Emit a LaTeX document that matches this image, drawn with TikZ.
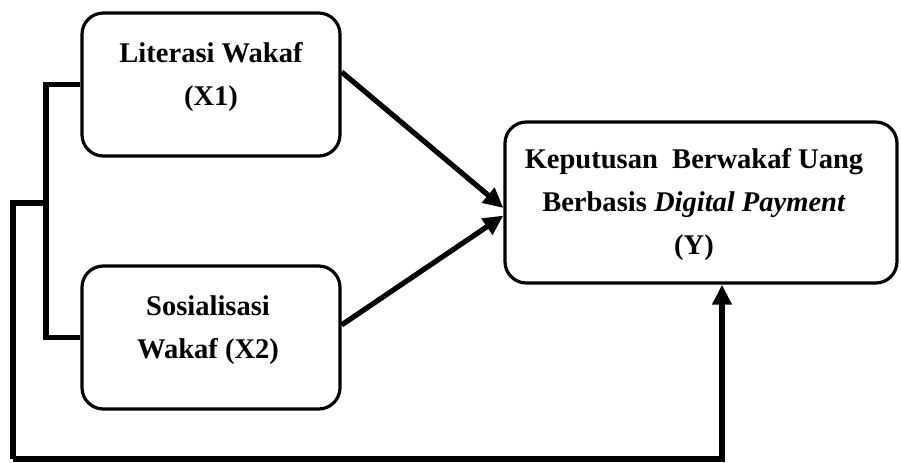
\documentclass[tikz,border=0pt]{standalone}
\usepackage{fontspec}
\setmainfont{Liberation Serif}
\usetikzlibrary{arrows.meta}
\begin{document}
\begin{tikzpicture}[x=0.75pt,y=-0.75pt,
  box/.style={draw,line width=2.4pt,rounded corners=16pt,inner sep=0pt},
  lbl/.style={align=center,inner sep=0pt,font=\fontsize{21.4}{32.6}\selectfont\bfseries},
  conn/.style={line width=3.9pt,line join=miter},
  arr/.style={conn,-{Triangle[length=15pt,width=14pt]}}]
\useasboundingbox (0,0) rectangle (901,462);
% boxes
\node[box,minimum width=193.5pt,minimum height=107.25pt] (x1) at (211,84.5) {};
\node[box,minimum width=193.5pt,minimum height=107.25pt] (x2) at (211,337.5) {};
\node[box,minimum width=294pt,minimum height=120.75pt] (y) at (701,202.5) {};
% texts
\node[lbl] (x1t) at (211,77) {Literasi Wakaf\\(X1)};
\node[lbl] (x2t) at (208,330) {Sosialisasi\\Wakaf (X2)};
\node[lbl] (yt) at (694,204.5) {Keputusan\hspace{0.25em} Berwakaf Uang\\Berbasis \textit{Digital Payment}\\(Y)};
% left connectors
\coordinate (jt) at (47.5,203);
\coordinate (o) at (13,203);
\coordinate (ob) at (13,459);
\draw[conn] (x1.west) -- ++(-34.5,0) |- (x2.west);
\draw[conn] (jt) -- (o) -- (ob);
\draw[arr] (ob) -| ([xshift=15.75pt]y.south);
% diagonal arrows
\draw[arr] ([yshift=9.4pt]x1.east) -- ([yshift=-4.1pt]y.west);
\draw[arr] ([yshift=9.4pt]x2.east) -- ([yshift=-9.8pt]y.west);
\end{tikzpicture}
\end{document}
